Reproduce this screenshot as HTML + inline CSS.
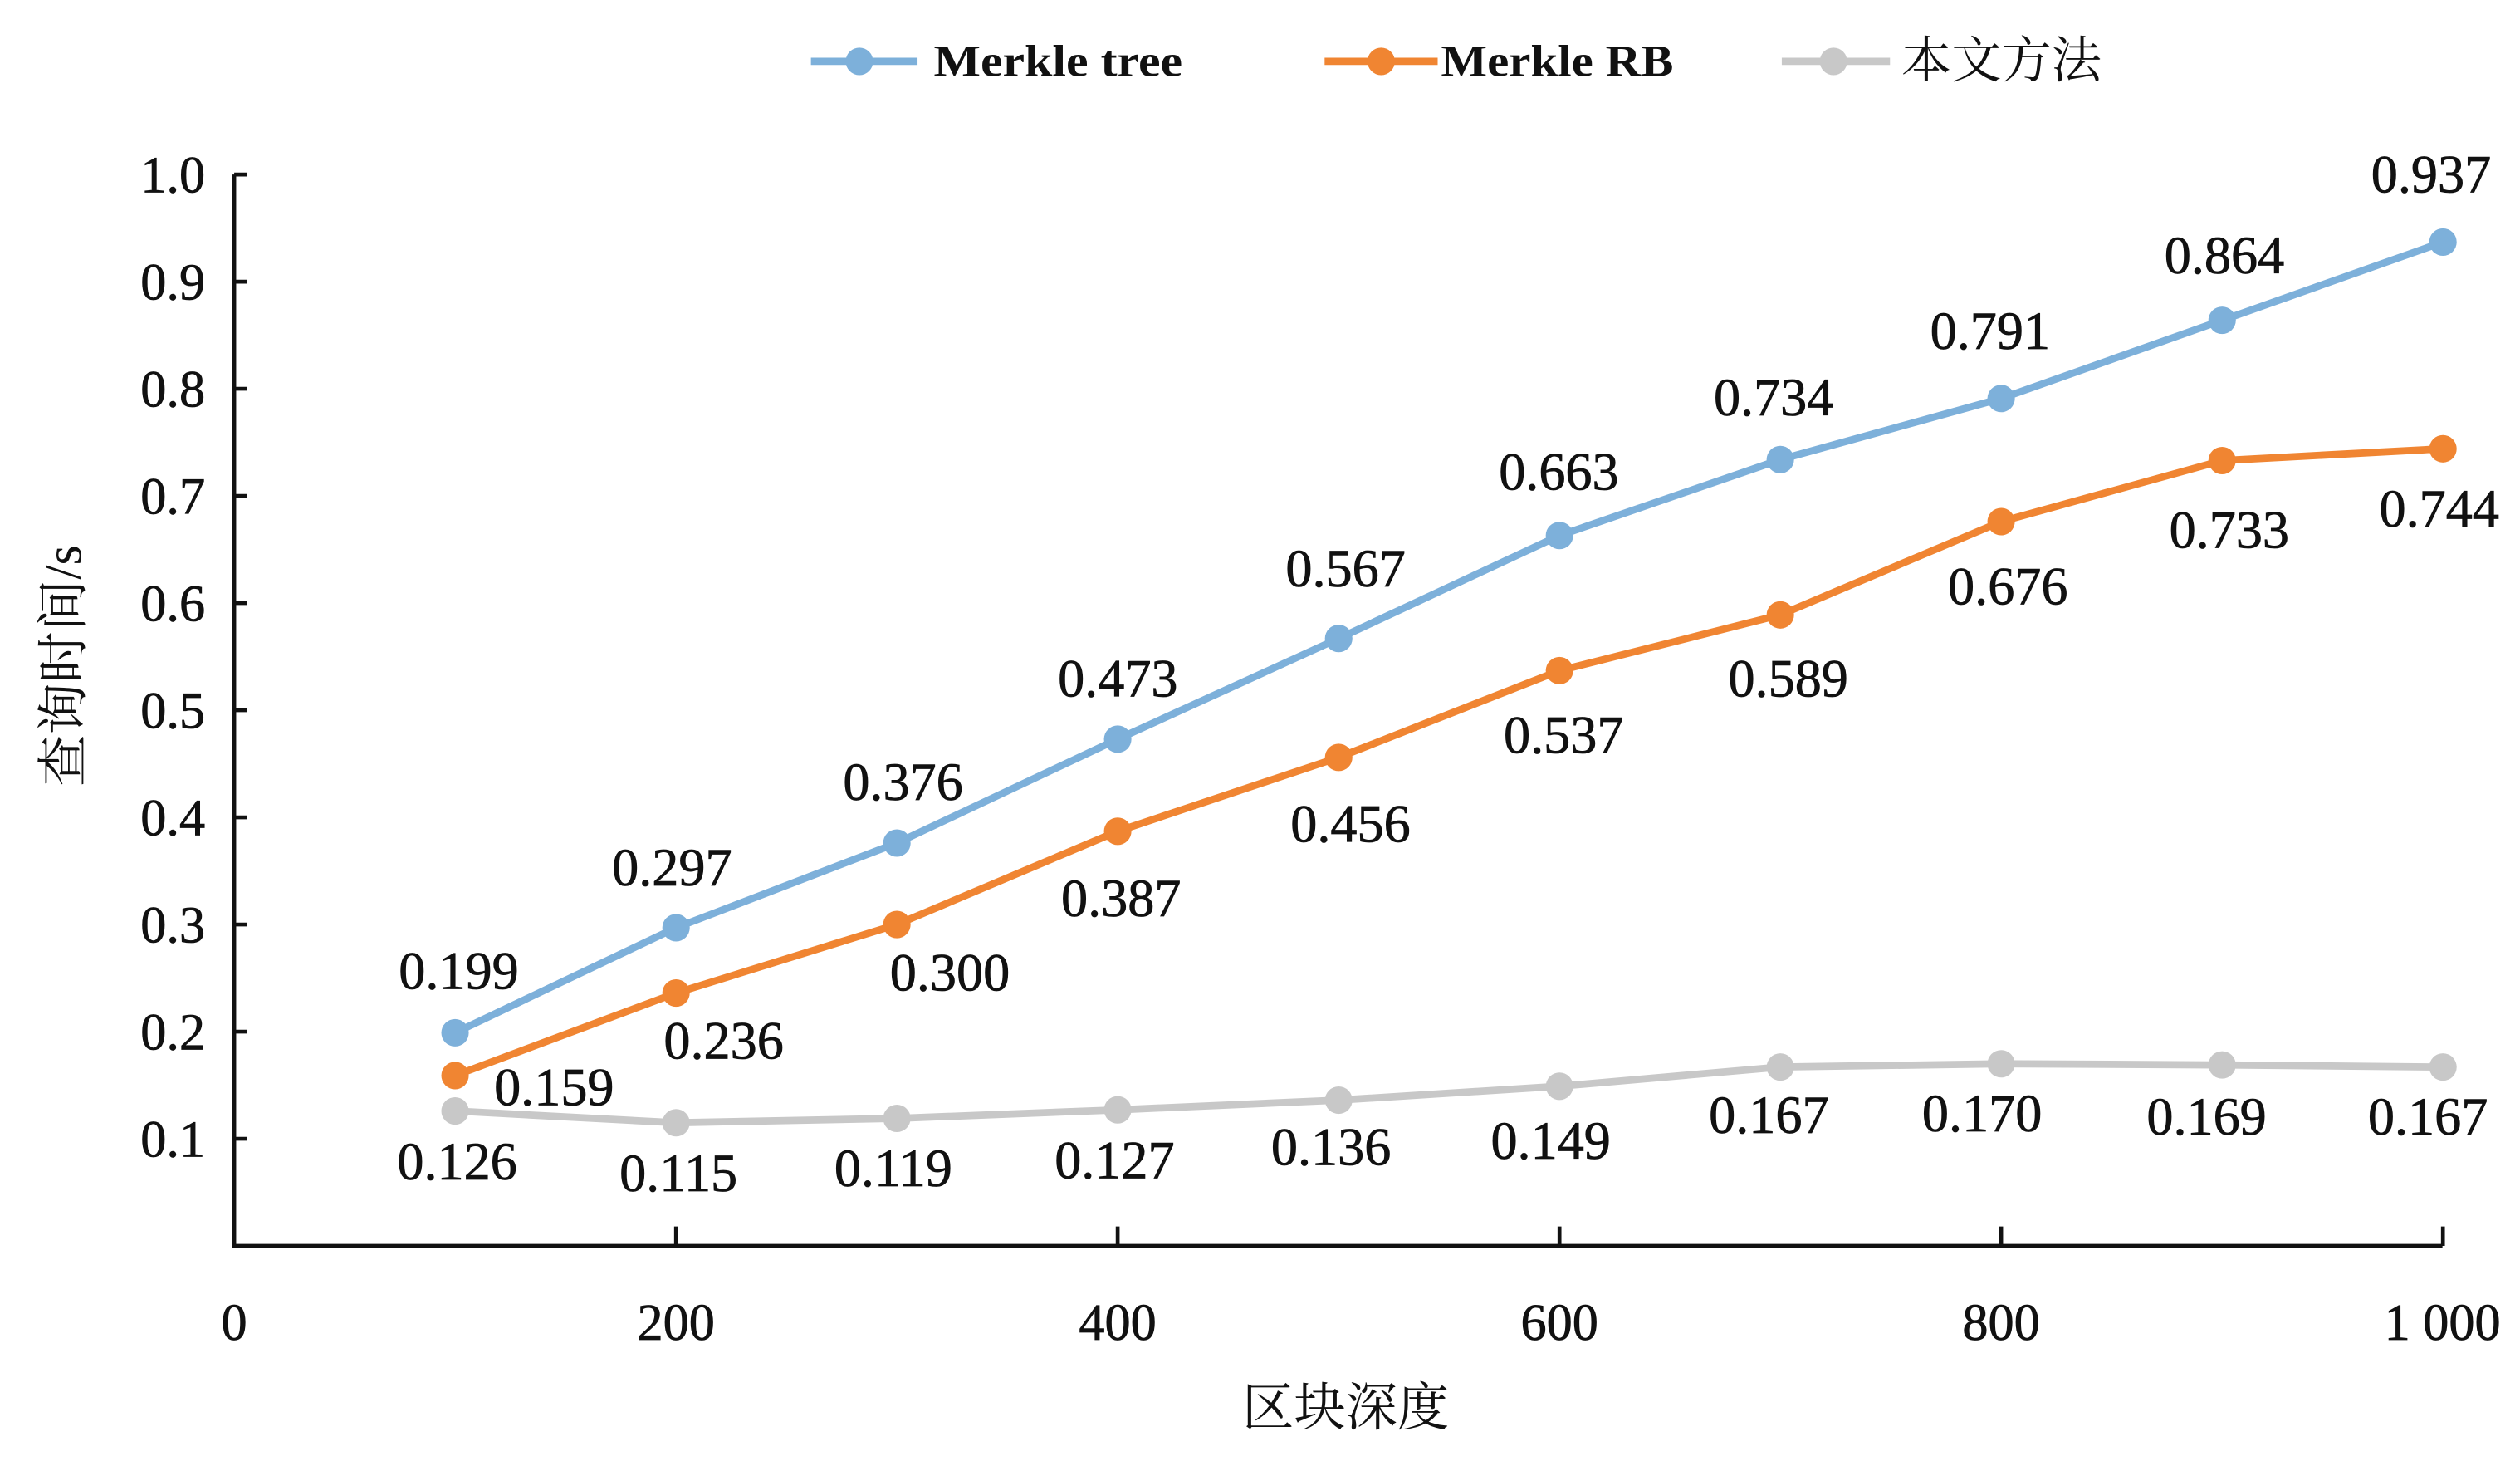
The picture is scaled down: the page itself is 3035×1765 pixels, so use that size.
<!DOCTYPE html>
<html><head><meta charset="utf-8"><style>html,body{margin:0;padding:0;background:#fff}svg{display:block}</style></head>
<body>
<svg width="3035" height="1765" viewBox="0 0 1560 907.2" preserveAspectRatio="none" xmlns="http://www.w3.org/2000/svg">
<rect width="1560" height="907.2" fill="#fff"/>
<g font-family="'Liberation Serif','Noto Serif CJK SC',serif" fill="#111">
<g stroke="#111" stroke-width="2.4" fill="none">
<path d="M145,108 V771 H1512"/>
<path d="M145,108h8M145,174.3h8M145,240.6h8M145,306.9h8M145,373.2h8M145,439.5h8M145,505.8h8M145,572.1h8M145,638.4h8M145,704.7h8"/>
<path d="M418.5,771v-12M691.9,771v-12M965.4,771v-12M1238.8,771v-12M1512.3,771v-12"/>
</g>
<g font-size="32" text-anchor="end" stroke="#111" stroke-width="0.4">
<text x="127" y="119">1.0</text><text x="127" y="185.3">0.9</text><text x="127" y="251.6">0.8</text><text x="127" y="317.9">0.7</text><text x="127" y="384.2">0.6</text><text x="127" y="450.5">0.5</text><text x="127" y="516.8">0.4</text><text x="127" y="583.1">0.3</text><text x="127" y="649.4">0.2</text><text x="127" y="715.7">0.1</text>
</g>
<g font-size="32" text-anchor="middle" stroke="#111" stroke-width="0.4">
<text x="145" y="829">0</text><text x="418.5" y="829">200</text><text x="691.9" y="829">400</text><text x="965.4" y="829">600</text><text x="1238.8" y="829">800</text><text x="1512" y="829">1 000</text>
</g>
<g font-size="32" text-anchor="middle">
<text x="833" y="882">区块深度</text>
<text transform="translate(50,412) rotate(-90)">查询时间/s</text>
</g>
<g fill="none" stroke-width="4.5" stroke-linejoin="round">
<polyline stroke="#C8C8C8" points="281.7,687.5 418.5,694.8 555.2,692.1 691.9,686.8 828.7,680.8 965.4,672.2 1102.1,660.3 1238.8,658.3 1375.6,659 1512.3,660.3"/>
<polyline stroke="#F08532" points="281.7,665.6 418.5,614.5 555.2,572.1 691.9,514.4 828.7,468.7 965.4,415 1102.1,380.5 1238.8,322.8 1375.6,285 1512.3,277.7"/>
<polyline stroke="#7DB0DA" points="281.7,639.1 418.5,574.1 555.2,521.7 691.9,457.4 828.7,395.1 965.4,331.4 1102.1,284.4 1238.8,246.6 1375.6,198.2 1512.3,149.8"/>
</g>
<g fill="#C8C8C8">
<circle cx="281.7" cy="687.5" r="8.5"/><circle cx="418.5" cy="694.8" r="8.5"/><circle cx="555.2" cy="692.1" r="8.5"/><circle cx="691.9" cy="686.8" r="8.5"/><circle cx="828.7" cy="680.8" r="8.5"/><circle cx="965.4" cy="672.2" r="8.5"/><circle cx="1102.1" cy="660.3" r="8.5"/><circle cx="1238.8" cy="658.3" r="8.5"/><circle cx="1375.6" cy="659" r="8.5"/><circle cx="1512.3" cy="660.3" r="8.5"/>
</g>
<g fill="#F08532">
<circle cx="281.7" cy="665.6" r="8.5"/><circle cx="418.5" cy="614.5" r="8.5"/><circle cx="555.2" cy="572.1" r="8.5"/><circle cx="691.9" cy="514.4" r="8.5"/><circle cx="828.7" cy="468.7" r="8.5"/><circle cx="965.4" cy="415" r="8.5"/><circle cx="1102.1" cy="380.5" r="8.5"/><circle cx="1238.8" cy="322.8" r="8.5"/><circle cx="1375.6" cy="285" r="8.5"/><circle cx="1512.3" cy="277.7" r="8.5"/>
</g>
<g fill="#7DB0DA">
<circle cx="281.7" cy="639.1" r="8.5"/><circle cx="418.5" cy="574.1" r="8.5"/><circle cx="555.2" cy="521.7" r="8.5"/><circle cx="691.9" cy="457.4" r="8.5"/><circle cx="828.7" cy="395.1" r="8.5"/><circle cx="965.4" cy="331.4" r="8.5"/><circle cx="1102.1" cy="284.4" r="8.5"/><circle cx="1238.8" cy="246.6" r="8.5"/><circle cx="1375.6" cy="198.2" r="8.5"/><circle cx="1512.3" cy="149.8" r="8.5"/>
</g>
<g font-size="33" text-anchor="middle" stroke="#111" stroke-width="0.4">
<text x="284" y="612">0.199</text><text x="416" y="548">0.297</text><text x="559" y="495">0.376</text><text x="692" y="431">0.473</text><text x="833" y="363">0.567</text><text x="965" y="303">0.663</text><text x="1098" y="257">0.734</text><text x="1232" y="216">0.791</text><text x="1377" y="169">0.864</text><text x="1505" y="119">0.937</text>
<text x="343" y="684">0.159</text><text x="448" y="655">0.236</text><text x="588" y="613">0.300</text><text x="694" y="567">0.387</text><text x="836" y="521">0.456</text><text x="968" y="466">0.537</text><text x="1107" y="431">0.589</text><text x="1243" y="374">0.676</text><text x="1380" y="339">0.733</text><text x="1510" y="326">0.744</text>
<text x="283" y="730">0.126</text><text x="420" y="737">0.115</text><text x="553" y="734">0.119</text><text x="690" y="729">0.127</text><text x="824" y="721">0.136</text><text x="960" y="717">0.149</text><text x="1095" y="701">0.167</text><text x="1227" y="700">0.170</text><text x="1366" y="702">0.169</text><text x="1503" y="702">0.167</text>
</g>
<g stroke-width="4.5">
<line x1="502" y1="38" x2="568" y2="38" stroke="#7DB0DA"/><circle cx="532" cy="38" r="8.5" fill="#7DB0DA"/>
<line x1="820" y1="38" x2="890" y2="38" stroke="#F08532"/><circle cx="855" cy="38" r="8.5" fill="#F08532"/>
<line x1="1103" y1="38" x2="1170" y2="38" stroke="#C8C8C8"/><circle cx="1135" cy="38" r="8.5" fill="#C8C8C8"/>
</g>
<g font-size="28" font-weight="bold">
<text x="578" y="47" textLength="154" lengthAdjust="spacingAndGlyphs">Merkle tree</text>
<text x="892" y="47" textLength="144" lengthAdjust="spacingAndGlyphs">Merkle RB</text>
<text x="1177" y="48" font-size="31" font-weight="normal">本文方法</text>
</g>
</g>
</svg>
</body></html>
